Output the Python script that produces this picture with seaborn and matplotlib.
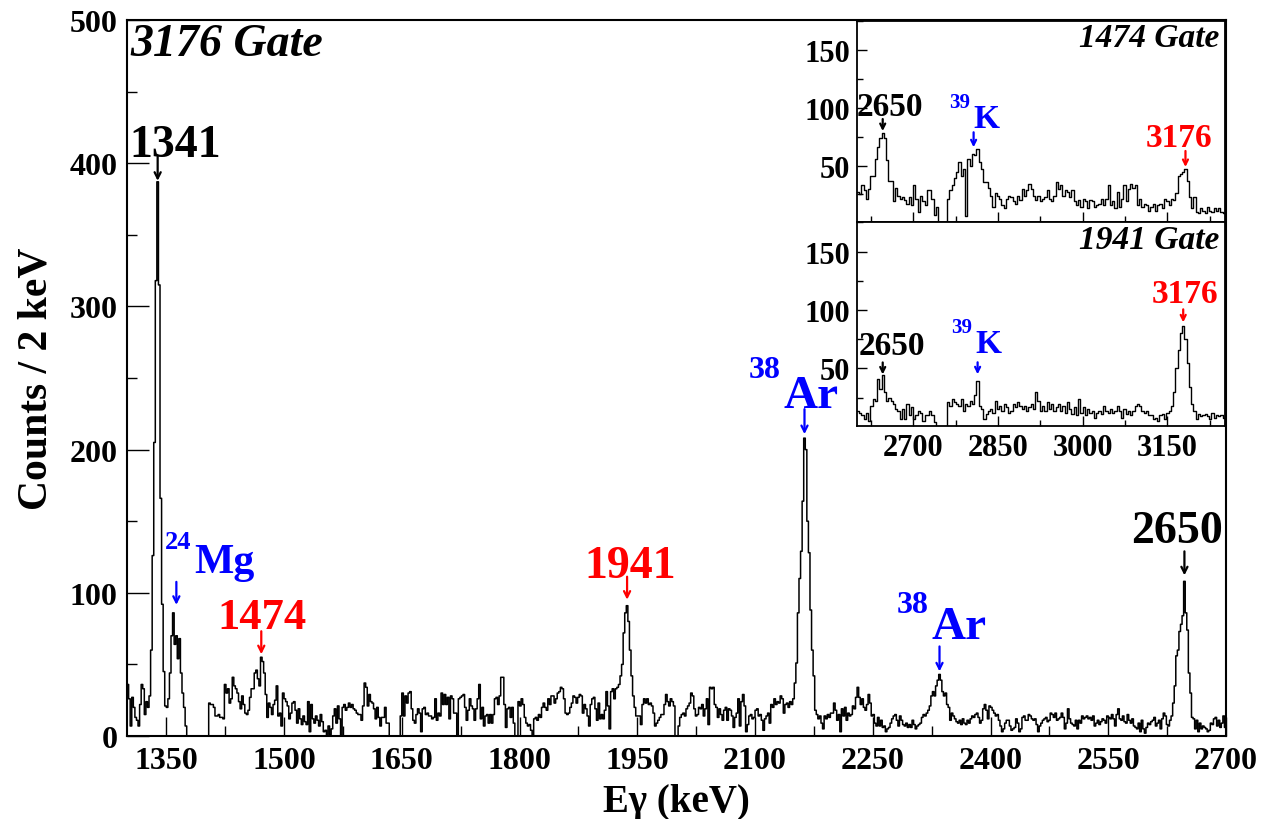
import numpy as np
import pandas as pd
import matplotlib
matplotlib.use("Agg")
import matplotlib.pyplot as plt
from matplotlib.ticker import MultipleLocator
import seaborn as sns

# ---------------- main spectrum: 3176 keV gate, 2 keV bins from 1300 keV ----------------
cts_1300_1326 = [36, 26, 7, 27, 20, 13, 11, 7, 22, 36, 33, 15, 24, 20]
cts_1328_1348 = [28, 60, 126, 205, 318, 387, 315, 166, 92, 45, 21]
cts_1350_1374 = [20, 26, 44, 70, 86, 64, 70, 54, 68, 44, 30, 20, 7]
cts_1376_1402 = [0] * 14
cts_1404_1588 = [23, 22, 22, 20, 14, 14, 15, 13, 13, 12,
                 36, 30, 33, 23, 26, 41, 35, 33, 30, 24,
                 19, 28, 22, 16, 15, 18, 27, 33, 33, 44,
                 46, 40, 35, 55, 52, 44, 29, 13, 23, 20,
                 15, 22, 25, 35, 14, 16, 7, 30, 26, 24,
                 21, 12, 16, 23, 24, 18, 9, 19, 12, 8,
                 14, 10, 8, 24, 3, 22, 12, 9, 14, 11,
                 7, 15, 10, 3, 4, 0, 7, 1, 5, 14,
                 19, 9, 21, 12, 0, 20, 22, 18, 20, 23,
                 20, 22, 19]
cts_1590_1870 = [18, 16, 15, 15, 11, 21, 37, 34, 21, 29, 24, 23, 19, 12, 20, 13, 7, 13, 13, 20, 9, 9, 0,
                 0, 0, 0, 0, 0, 0,
                 14, 30, 14, 28, 23, 30, 31, 19, 11, 9, 15, 19, 16, 3, 19, 20, 15, 16, 14, 14,
                 12, 13, 26, 11, 16, 14, 30, 22, 29, 22, 27, 12, 28, 26, 16, 16,
                 0,
                 26, 27, 28, 29, 20, 11, 18, 26, 21, 19, 11, 19, 26, 36, 12, 20, 7, 14, 15, 9,
                 15, 9, 15, 26, 27, 22, 28, 41, 41, 22, 6, 19, 20, 13, 20, 9, 0, 0, 24, 21,
                 26, 22, 13, 9, 7, 8, 4, 0, 12, 13, 11, 15, 13, 20, 23, 20, 18, 26, 22, 28,
                 28, 23, 26, 30, 31, 34, 33, 26, 16, 15, 16, 20, 23, 28, 27]
cts_1872_1924 = [23, 27, 29, 28, 16, 22, 19, 14, 7, 22,
                 26, 27, 19, 11, 23, 12, 15, 12, 18, 31,
                 21, 5, 31, 33, 26, 33, 34]
cts_1926_1948 = [36, 42, 50, 72, 86, 91, 80, 60, 42, 28, 20, 14]
cts_1950_2144 = [14, 14, 8, 22, 26, 23, 26, 22, 23, 21, 16, 7, 9, 11, 13, 15, 15, 22, 29, 24, 21, 26, 24, 21,
                 0, 0, 7, 13, 15, 16, 14, 19, 21, 23, 30, 28, 19, 14, 15, 20, 19, 22, 14, 19,
                 26, 8, 34, 33, 34, 22, 20, 13, 19, 15, 11, 18, 20, 11, 19, 18, 14, 6, 13, 16,
                 26, 7, 24, 29, 21, 3, 8, 14, 15, 12, 13, 18, 19, 14, 15, 11, 4, 12, 14, 16,
                 9, 22, 20, 26, 22, 24, 23, 28, 26, 16, 22, 23, 20, 24]
cts_2146_2176 = [22, 26, 37, 51, 86, 110, 129, 164, 208, 200, 150, 128, 88, 60, 42, 18]
cts_2178_2294 = [15, 12, 14, 9, 5, 14, 12, 15, 13, 16, 16, 23, 18, 11, 15, 3, 19, 14, 20, 11,
                 16, 14, 15, 21, 19, 27, 34, 27, 22, 26, 20, 18, 22, 29, 23, 14, 15, 9, 7, 13,
                 7, 11, 6, 7, 3, 5, 6, 9, 12, 14, 15, 11, 7, 14, 11, 8, 7, 9, 6]
cts_2296_2424 = [8, 6, 11, 8, 5, 7, 8, 9, 13, 15, 14, 16, 18, 21, 28, 31, 28, 35, 39, 43,
                 39, 31, 28, 30, 22, 20, 11, 16, 14, 12, 10, 9, 11, 8, 12, 9, 8, 11, 9, 12,
                 14, 13, 15, 16, 13, 9, 11, 19, 22, 18, 12, 21, 20, 18, 16, 14, 15, 11, 7, 3,
                 5, 9, 11, 11, 7]
cts_2426_2452 = [4, 5, 6, 12, 9, 3, 5, 13, 14, 11, 11, 15, 14, 12]
cts_2454_2628 = [11, 12, 8, 3, 7, 9, 11, 12, 13, 10, 11, 16, 15, 13, 16, 11, 12, 13, 16, 13,
                 5, 9, 19, 12, 9, 8, 7, 11, 5, 11, 9, 14, 12, 13, 14, 12, 13, 11, 14, 7,
                 9, 11, 8, 10, 12, 11, 9, 14, 13, 12, 15, 12, 7, 15, 19, 12, 11, 14, 10, 9,
                 15, 11, 9, 12, 7, 6, 5, 9, 3, 11, 5, 2, 6, 9, 8, 10, 11, 13, 7, 9,
                 11, 5, 12, 16, 14, 8, 7, 11]
cts_2630_2656 = [14, 23, 35, 56, 60, 73, 78, 84, 108, 86, 74, 44, 30, 13]
cts_2658_2698 = [12, 5, 11, 3, 9, 5, 7, 6, 5, 3, 4, 9, 8, 12, 13, 7, 11, 6, 9, 14, 6]

main_counts = np.concatenate([
    cts_1300_1326, cts_1328_1348, cts_1350_1374, cts_1376_1402, cts_1404_1588,
    cts_1590_1870, cts_1872_1924, cts_1926_1948, cts_1950_2144, cts_2146_2176,
    cts_2178_2294, cts_2296_2424, cts_2426_2452, cts_2454_2628, cts_2630_2656,
    cts_2658_2698]).astype(float)
assert len(main_counts) == 700
main_edges = [1300 + 2 * i for i in range(len(main_counts) + 1)]

# ---------------- inset spectra: 4 keV bins from 2600 keV ----------------
gate1474_counts = [27, 25, 33, 29, 21, 30, 41, 41, 56, 66,
                   74, 78, 74, 55, 37, 37, 19, 31, 24, 21,
                   23, 20, 17, 23, 16, 33, 21, 10, 24, 19,
                   16, 29, 29, 21, 7, 14, 0, 0, 0, 0,
                   21, 29, 33, 39, 44, 53, 41, 47, 6, 56,
                   50, 60, 59, 64, 53, 47, 36, 36, 31, 24,
                   14, 26, 24, 21, 16, 13, 21, 24, 23, 19,
                   17, 24, 20, 30, 24, 29, 34, 30, 24, 20,
                   24, 19, 21, 23, 29, 21, 19, 24, 36, 30,
                   33, 24, 29, 27, 23, 29, 19, 16, 20, 14,
                   21, 19, 13, 20, 19, 14, 16, 17, 21, 16,
                   21, 33, 16, 19, 13, 27, 14, 21, 33, 19,
                   30, 34, 31, 33, 16, 21, 14, 17, 16, 11,
                   14, 17, 11, 16, 17, 13, 21, 19, 16, 21,
                   20, 26, 41, 43, 44, 47, 37, 23, 13, 23,
                   10, 9, 13, 11, 9, 14, 11, 10, 13, 11,
                   13, 10, 9]
gate1941_counts = [14, 12, 10, 7, 12, 5, 18, 24, 22, 41,
                   32, 44, 30, 22, 25, 22, 20, 15, 14, 7,
                   15, 7, 20, 10, 17, 7, 10, 14, 12, 5,
                   10, 10, 14, 10, 4, 0, 0, 0, 0, 0,
                   21, 18, 24, 21, 20, 18, 24, 14, 20, 18,
                   22, 20, 27, 39, 18, 15, 7, 11, 14, 15,
                   12, 22, 15, 18, 14, 20, 17, 12, 14, 20,
                   17, 21, 18, 15, 18, 14, 17, 20, 15, 30,
                   22, 14, 18, 14, 21, 15, 20, 14, 17, 20,
                   14, 18, 12, 21, 15, 11, 17, 10, 24, 12,
                   17, 10, 15, 12, 14, 8, 12, 14, 11, 18,
                   14, 12, 15, 12, 14, 18, 14, 8, 15, 11,
                   14, 10, 14, 18, 20, 18, 14, 12, 14, 10,
                   10, 7, 8, 5, 10, 11, 7, 12, 14, 18,
                   30, 50, 66, 80, 86, 75, 55, 34, 20, 14,
                   7, 11, 9, 10, 11, 9, 7, 12, 8, 10,
                   9, 10, 8]
inset_edges = [2600 + 4 * i for i in range(len(gate1474_counts) + 1)]

main_xticks = [1350, 1500, 1650, 1800, 1950, 2100, 2250, 2400, 2550, 2700]
inset_xticks = [2700, 2850, 3000, 3150]
inset_yticks = [50, 100, 150]

RED = "#ff0000"
BLUE = "#0000ff"
BLACK = "#000000"

sns.set_theme(style="ticks")
plt.rcParams["font.family"] = ["Liberation Serif", "DejaVu Serif"]
plt.rcParams["font.weight"] = "bold"
plt.rcParams["axes.linewidth"] = 1.5
for key in ("text.color", "axes.labelcolor", "xtick.color", "ytick.color",
            "axes.edgecolor", "xtick.labelcolor", "ytick.labelcolor"):
    plt.rcParams[key] = BLACK

fig = plt.figure(figsize=(12.73, 8.20), dpi=100)
ax = fig.add_axes([0.0998, 0.1012, 0.8633, 0.8732])
PT = 72.0 / fig.dpi  # points per pixel


def bin_centers(edges):
    e = np.asarray(edges, dtype=float)
    return 0.5 * (e[:-1] + e[1:])


def draw_hist(axis, edges, counts, lw):
    df = pd.DataFrame({"energy": bin_centers(edges), "counts": np.asarray(counts, dtype=float)})
    sns.histplot(data=df, x="energy", weights="counts", bins=list(edges), element="step",
                 fill=False, color=BLACK, linewidth=lw, ax=axis)


def peak_of(edges, counts, lo, hi):
    centers = bin_centers(edges)
    c = np.asarray(counts, dtype=float)
    sel = np.where((centers >= lo) & (centers <= hi))[0]
    i = sel[np.argmax(c[sel])]
    return centers[i], c[i]


def tip_point(axis, x, y, up_px, dx_px=0.0):
    disp = axis.transData.transform((x, y))
    disp[0] += dx_px
    disp[1] += up_px
    return tuple(axis.transData.inverted().transform(disp))


def arrow(axis, tip, length_px, color, lw=1.6, head=11):
    axis.annotate("", xy=tip, xycoords="data", xytext=(0, length_px * PT),
                  textcoords="offset points",
                  arrowprops=dict(arrowstyle="->", color=color, lw=lw, shrinkA=0, shrinkB=0,
                                  mutation_scale=head),
                  annotation_clip=False, zorder=5)


def label(axis, anchor, text, color, size, dx_px, dy_px, ha="center"):
    axis.annotate(text, xy=anchor, xytext=(dx_px * PT, dy_px * PT), textcoords="offset points",
                  ha=ha, va="baseline", color=color, fontsize=size, fontweight="bold",
                  annotation_clip=False, zorder=5)


def iso(axis, anchor, mass, sym, color, size, msize, dx_px, sym_dy_px, mass_dy_px):
    label(axis, anchor, sym, color, size, dx_px, sym_dy_px, ha="left")
    label(axis, anchor, mass, color, msize, dx_px - 3, mass_dy_px, ha="right")


# ---------------- main panel ----------------
draw_hist(ax, main_edges, main_counts, 1.1)
ax.set_xlim(1300, 2700)
ax.set_ylim(0, 500)
ax.set_xticks(main_xticks)
ax.xaxis.set_minor_locator(MultipleLocator(75))
ax.yaxis.set_major_locator(MultipleLocator(100))
ax.yaxis.set_minor_locator(MultipleLocator(50))
ax.tick_params(axis="x", which="major", direction="in", length=14, width=1.0, pad=7,
               labelsize=23, top=False)
ax.tick_params(axis="x", which="minor", direction="in", length=7, width=1.0, top=False)
ax.tick_params(axis="y", which="major", direction="in", length=16, width=1.0, pad=7,
               labelsize=23, right=False)
ax.tick_params(axis="y", which="minor", direction="in", length=7, width=1.0, right=False)
for lab in ax.get_xticklabels() + ax.get_yticklabels():
    lab.set_fontweight("bold")
ax.set_xlabel("Eγ (keV)", fontsize=28, fontweight="bold", labelpad=6)
ax.set_ylabel("Counts / 2 keV", fontsize=30, fontweight="bold", labelpad=10)
ax.text(0.003, 0.951, "3176 Gate", transform=ax.transAxes, fontsize=33,
        fontweight="bold", fontstyle="italic", ha="left", va="baseline")

# 1341
x, y = peak_of(main_edges, main_counts, 1330, 1350)
t = tip_point(ax, x, y, 1)
arrow(ax, t, 24, BLACK)
label(ax, t, "1341", BLACK, 33, 18, 25)
# 24Mg
x, y = peak_of(main_edges, main_counts, 1352, 1372)
t = tip_point(ax, x, y, 8, 3)
arrow(ax, t, 23, BLUE)
iso(ax, t, "24", "Mg", BLUE, 30, 19, 18, 33, 57)
# 1474
x, y = peak_of(main_edges, main_counts, 1460, 1480)
t = tip_point(ax, x, y, 3)
arrow(ax, t, 23, RED)
label(ax, t, "1474", RED, 32, 1, 26)
# 1941
x, y = peak_of(main_edges, main_counts, 1925, 1950)
t = tip_point(ax, x, y, 6)
arrow(ax, t, 23, RED)
label(ax, t, "1941", RED, 33, 3, 23)
# 38Ar
x, y = peak_of(main_edges, main_counts, 2150, 2175)
t = tip_point(ax, x, y, 4)
arrow(ax, t, 25, BLUE)
iso(ax, t, "38", "Ar", BLUE, 34, 23, -21, 27, 57)
# 38Ar, second line
x, y = peak_of(main_edges, main_counts, 2320, 2350)
t = tip_point(ax, x, y, 3)
arrow(ax, t, 25, BLUE)
iso(ax, t, "38", "Ar", BLUE, 34, 23, -8, 33, 59)
# 2650
x, y = peak_of(main_edges, main_counts, 2635, 2660)
t = tip_point(ax, x, y, 6)
arrow(ax, t, 24, BLACK)
label(ax, t, "2650", BLACK, 33, -7, 33)


# ---------------- insets ----------------
def inset(rect, counts, title, show_xlabels):
    a = fig.add_axes(rect)
    a.set_facecolor("white")
    draw_hist(a, inset_edges, counts, 1.0)
    a.set_xlim(2600, 3252)
    a.set_ylim(1, 175)
    a.set_xticks(inset_xticks)
    a.xaxis.set_minor_locator(MultipleLocator(75))
    a.set_yticks(inset_yticks)
    a.yaxis.set_minor_locator(MultipleLocator(25))
    a.tick_params(axis="both", which="major", direction="in", length=7, width=1.0,
                  labelsize=22, pad=5, top=False, right=False)
    a.tick_params(axis="both", which="minor", direction="in", length=4, width=1.0,
                  top=False, right=False)
    if not show_xlabels:
        a.tick_params(axis="x", labelbottom=False)
    for lab in a.get_xticklabels() + a.get_yticklabels():
        lab.set_fontweight("bold")
    a.set_xlabel("")
    a.set_ylabel("")
    for s in a.spines.values():
        s.set_linewidth(1.3)
        s.set_color(BLACK)
    a.text(0.985, 0.875, title, transform=a.transAxes, fontsize=24, fontweight="bold",
           fontstyle="italic", ha="right", va="baseline")
    return a


ax1 = inset([0.6730, 0.7277, 0.2893, 0.2459], gate1474_counts, "1474 Gate", False)
ax2 = inset([0.6730, 0.4796, 0.2893, 0.2481], gate1941_counts, "1941 Gate", True)

# 1474 gate labels
x, y = peak_of(inset_edges, gate1474_counts, 2630, 2670)
t = tip_point(ax1, x, y, 2)
arrow(ax1, t, 12, BLACK, head=9)
label(ax1, t, "2650", BLACK, 24, 7, 16)
x, y = peak_of(inset_edges, gate1474_counts, 2790, 2830)
t = tip_point(ax1, x, y, 2, -4)
arrow(ax1, t, 15, BLUE, head=9)
iso(ax1, t, "39", "K", BLUE, 24, 15, 0, 20, 40)
x, y = peak_of(inset_edges, gate1474_counts, 3160, 3200)
t = tip_point(ax1, x, y, 2)
arrow(ax1, t, 16, RED, head=9)
label(ax1, t, "3176", RED, 24, -6, 21)

# 1941 gate labels
x, y = peak_of(inset_edges, gate1941_counts, 2630, 2670)
t = tip_point(ax2, x, y, 1)
arrow(ax2, t, 12, BLACK, head=9)
label(ax2, t, "2650", BLACK, 24, 9, 20)
x, y = peak_of(inset_edges, gate1941_counts, 2790, 2830)
t = tip_point(ax2, x, y, 7)
arrow(ax2, t, 12, BLUE, head=9)
iso(ax2, t, "39", "K", BLUE, 24, 15, -2, 22, 42)
x, y = peak_of(inset_edges, gate1941_counts, 3160, 3200)
t = tip_point(ax2, x, y, 4)
arrow(ax2, t, 13, RED, head=9)
label(ax2, t, "3176", RED, 24, 2, 20)

fig.savefig("out.png", dpi=100)
